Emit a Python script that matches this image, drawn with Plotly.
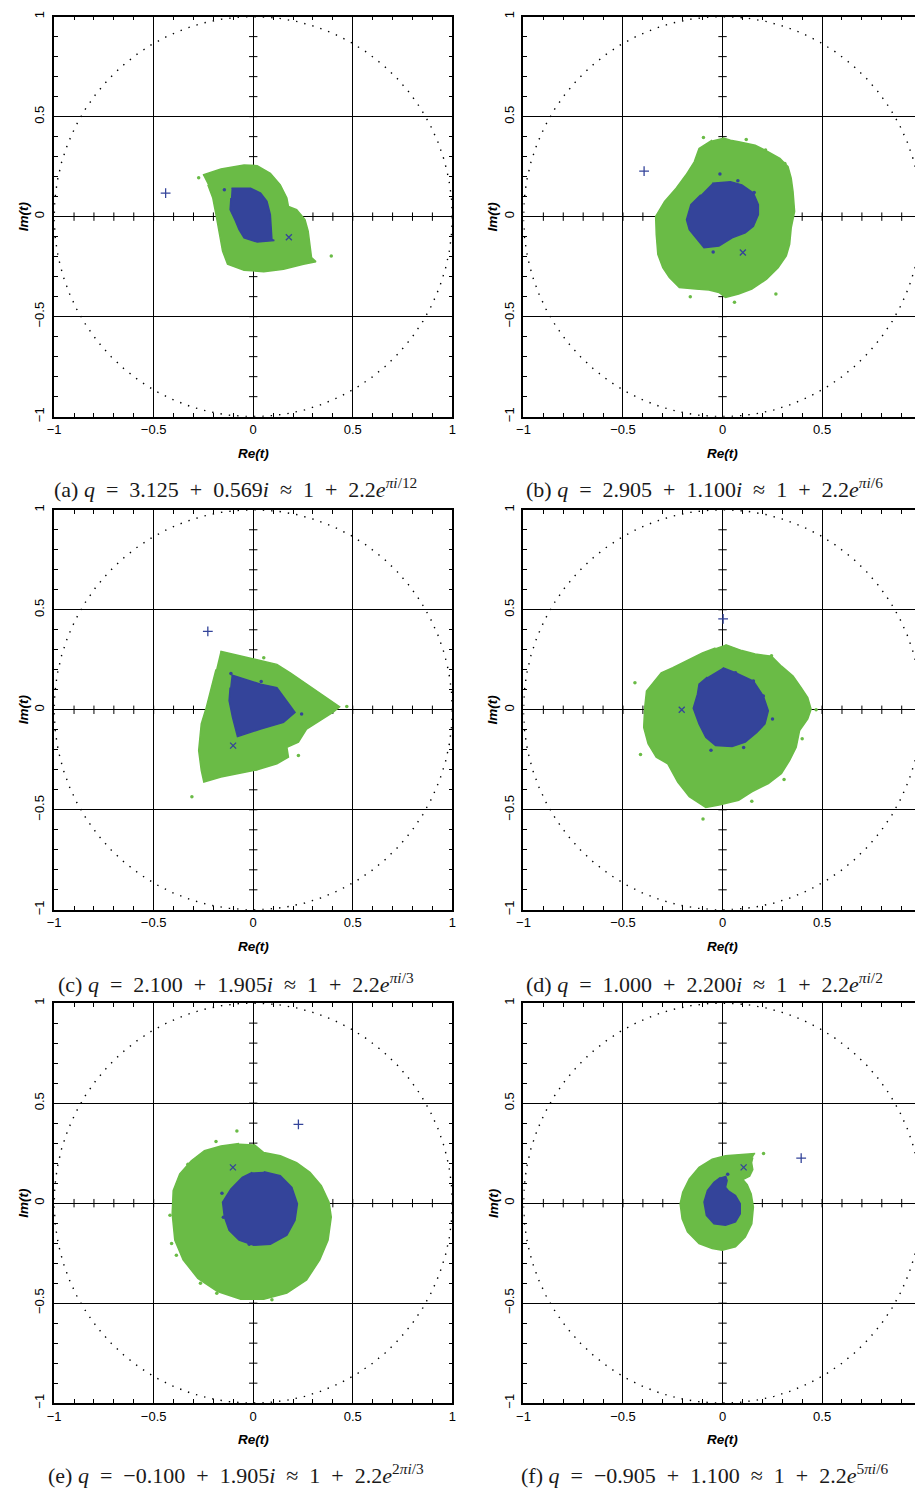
import numpy as np
import plotly.graph_objects as go

# ---------------- data ----------------
# Panel (a)
A_GREEN_RE = [-0.253, -0.162, -0.046, 0.02, 0.086, 0.136, 0.169, 0.177, 0.218, 0.26, 0.276, 0.285, 0.293, 0.315,
              0.252, 0.152, 0.053, -0.046, -0.129, -0.154, -0.170, -0.187, -0.203, -0.228]
A_GREEN_IM = [0.208, 0.238, 0.258, 0.255, 0.217, 0.159, 0.093, 0.051, 0.035, -0.015, -0.073, -0.139, -0.205, -0.225,
              -0.238, -0.263, -0.275, -0.268, -0.238, -0.172, -0.073, 0.01, 0.093, 0.159]
A_BLUE_RE = [-0.109, -0.013, 0.037, 0.069, 0.086, 0.089, 0.094, 0.106, 0.02, -0.046, -0.071, -0.092, -0.116, -0.112]
A_BLUE_IM = [0.142, 0.142, 0.118, 0.076, 0.01, -0.056, -0.114, -0.119, -0.127, -0.106, -0.065, -0.015, 0.035, 0.093]
A_GDOT_RE = [-0.274, 0.392]
A_GDOT_IM = [0.195, -0.197]
A_BDOT_RE = [-0.145]
A_BDOT_IM = [0.134]

# Panel (b)
B_GREEN_RE = [0.0, 0.04, 0.081, 0.164, 0.23, 0.288, 0.329, 0.345, 0.354, 0.362, 0.345, 0.337, 0.32, 0.279, 0.221,
              0.147, 0.081, 0.015, -0.018, -0.068, -0.134, -0.217, -0.267, -0.3, -0.325, -0.333, -0.336, -0.291,
              -0.233, -0.184, -0.142, -0.118, -0.052]
B_GREEN_IM = [0.394, 0.382, 0.374, 0.357, 0.324, 0.291, 0.25, 0.192, 0.126, 0.026, -0.056, -0.139, -0.197, -0.255,
              -0.313, -0.362, -0.387, -0.404, -0.379, -0.367, -0.362, -0.354, -0.304, -0.255, -0.189, -0.089, 0.001,
              0.076, 0.142, 0.208, 0.274, 0.341, 0.382]
B_BLUE_RE = [-0.052, 0.04, 0.097, 0.155, 0.18, 0.18, 0.155, 0.114, 0.048, -0.018, -0.093, -0.134, -0.167, -0.181,
             -0.159, -0.109]
B_BLUE_IM = [0.167, 0.175, 0.159, 0.118, 0.06, 0.01, -0.048, -0.081, -0.106, -0.147, -0.155, -0.106, -0.065, -0.015,
             0.06, 0.109]
B_GDOT_RE = [-0.096, 0.119, 0.216, 0.313, 0.268, 0.06, -0.162]
B_GDOT_IM = [0.396, 0.386, 0.333, 0.266, -0.387, -0.428, -0.4]
B_BDOT_RE = [-0.013, 0.077, 0.159, -0.047]
B_BDOT_IM = [0.213, 0.18, 0.121, -0.177]

# Panel (c)
C_GREEN_RE = [-0.165, -0.063, 0.053, 0.119, 0.186, 0.268, 0.334, 0.4, 0.434, 0.4, 0.334, 0.268, 0.227, 0.169, 0.177,
              0.119, 0.02, -0.079, -0.162, -0.248, -0.261, -0.274, -0.261, -0.236, -0.211, -0.187]
C_GREEN_IM = [0.293, 0.268, 0.243, 0.227, 0.185, 0.128, 0.086, 0.036, 0.015, -0.013, -0.055, -0.096, -0.162, -0.187,
              -0.237, -0.27, -0.3, -0.319, -0.336, -0.361, -0.303, -0.203, -0.071, 0.011, 0.111, 0.202]
C_BLUE_RE = [-0.109, -0.038, 0.037, 0.119, 0.161, 0.21, 0.152, 0.037, -0.079, -0.104, -0.121, -0.116]
C_BLUE_IM = [0.174, 0.152, 0.128, 0.111, 0.053, -0.013, -0.063, -0.096, -0.134, -0.038, 0.045, 0.111]
C_GDOT_RE = [0.053, 0.47, 0.227, -0.308]
C_GDOT_IM = [0.26, 0.016, -0.228, -0.435]
C_BDOT_RE = [-0.112, 0.04, 0.243]
C_BDOT_IM = [0.182, 0.141, -0.021]

# Panel (d)
D_GREEN_RE = [0.015, 0.097, 0.164, 0.246, 0.296, 0.354, 0.395, 0.428, 0.445, 0.428, 0.387, 0.37, 0.337, 0.296, 0.23,
              0.147, 0.081, -0.018, -0.084, -0.167, -0.225, -0.275, -0.333, -0.374, -0.396, -0.391, -0.382, -0.349,
              -0.308, -0.25, -0.184, -0.101, -0.035]
D_GREEN_IM = [0.326, 0.296, 0.279, 0.268, 0.218, 0.169, 0.111, 0.061, 0.003, -0.046, -0.104, -0.187, -0.253, -0.319,
              -0.369, -0.41, -0.452, -0.476, -0.488, -0.435, -0.361, -0.27, -0.237, -0.17, -0.088, 0.011, 0.094, 0.135,
              0.185, 0.21, 0.243, 0.284, 0.309]
D_BLUE_RE = [0.001, 0.065, 0.155, 0.205, 0.23, 0.213, 0.172, 0.114, 0.048, -0.035, -0.084, -0.118, -0.147, -0.126,
             -0.118, -0.076]
D_BLUE_IM = [0.21, 0.185, 0.144, 0.069, -0.005, -0.071, -0.113, -0.162, -0.184, -0.179, -0.137, -0.071, 0.008, 0.078,
             0.128, 0.164]
D_GDOT_RE = [-0.44, -0.412, 0.47, 0.4, 0.309, 0.147, -0.098, 0.246]
D_GDOT_IM = [0.135, -0.223, 0.0, -0.145, -0.349, -0.457, -0.546, 0.27]
D_BDOT_RE = [0.251, 0.106, -0.058, 0.155, 0.205, 0.065]
D_BDOT_IM = [-0.046, -0.189, -0.202, 0.144, 0.069, 0.185]

# Panel (e)
E_GREEN_RE = [0.003, 0.053, 0.136, 0.218, 0.285, 0.342, 0.381, 0.392, 0.376, 0.334, 0.268, 0.169, 0.053, -0.063,
              -0.179, -0.278, -0.352, -0.394, -0.407, -0.402, -0.369, -0.311, -0.245, -0.162, -0.071]
E_GREEN_IM = [0.294, 0.253, 0.237, 0.203, 0.154, 0.088, 0.005, -0.069, -0.185, -0.284, -0.384, -0.45, -0.48, -0.48,
              -0.442, -0.376, -0.284, -0.185, -0.053, 0.063, 0.146, 0.212, 0.262, 0.286, 0.298]
E_BLUE_RE = [0.053, 0.136, 0.194, 0.222, 0.21, 0.169, 0.086, 0.003, -0.071, -0.121, -0.145, -0.154, -0.112, -0.055,
             -0.005]
E_BLUE_IM = [0.157, 0.137, 0.079, -0.003, -0.086, -0.16, -0.205, -0.21, -0.185, -0.136, -0.069, 0.005, 0.071, 0.129,
             0.154]
E_GDOT_RE = [-0.082, -0.187, -0.328, -0.265, -0.364, -0.418, -0.41, -0.386, -0.265, -0.183, 0.094]
E_GDOT_IM = [0.361, 0.308, 0.195, 0.215, 0.132, -0.061, -0.202, -0.26, -0.4, -0.45, -0.483]
E_BDOT_RE = [-0.157, -0.15, -0.02]
E_BDOT_IM = [0.05, -0.07, -0.205]

# Panel (f)
F_GREEN_RE = [0.164, 0.097, 0.015, -0.052, -0.118, -0.167, -0.2, -0.213, -0.203, -0.176, -0.118, -0.052, -0.002,
              0.065, 0.114, 0.147, 0.155, 0.144, 0.124, 0.102, 0.136, 0.152, 0.146, 0.152]
F_GREEN_IM = [0.248, 0.242, 0.237, 0.22, 0.179, 0.121, 0.055, -0.003, -0.078, -0.144, -0.202, -0.227, -0.235,
              -0.218, -0.169, -0.103, -0.02, 0.046, 0.093, 0.118, 0.135, 0.168, 0.203, 0.228]
F_BLUE_RE = [0.015, 0.023, 0.015, 0.031, 0.065, 0.089, 0.089, 0.065, 0.015, -0.043, -0.081, -0.093, -0.076, -0.043,
             -0.01]
F_BLUE_IM = [0.137, 0.113, 0.079, 0.06, 0.038, -0.003, -0.053, -0.094, -0.111, -0.103, -0.061, 0.005, 0.063, 0.104,
             0.129]
F_GDOT_RE = [0.206]
F_GDOT_IM = [0.248]
F_BDOT_RE = [0.026]
F_BDOT_IM = [0.145]

# "+" and "x" markers, one per panel (a..f)
PLUS_RE = [-0.44, -0.394, -0.228, 0.003, 0.227, 0.395]
PLUS_IM = [0.118, 0.228, 0.392, 0.455, 0.394, 0.225]
CROSS_RE = [0.179, 0.102, -0.101, -0.205, -0.102, 0.106]
CROSS_IM = [-0.103, -0.179, -0.179, 0.0, 0.179, 0.179]

SP = "\u2002"  # wider math spacing around operators
CAPTIONS = [
    f"(a) <i>q</i>{SP}={SP}3.125{SP}+{SP}0.569<i>i</i>{SP}≈{SP}1{SP}+{SP}2.2<i>e</i><sup><i>πi</i>/12</sup>",
    f"(b) <i>q</i>{SP}={SP}2.905{SP}+{SP}1.100<i>i</i>{SP}≈{SP}1{SP}+{SP}2.2<i>e</i><sup><i>πi</i>/6</sup>",
    f"(c) <i>q</i>{SP}={SP}2.100{SP}+{SP}1.905<i>i</i>{SP}≈{SP}1{SP}+{SP}2.2<i>e</i><sup><i>πi</i>/3</sup>",
    f"(d) <i>q</i>{SP}={SP}1.000{SP}+{SP}2.200<i>i</i>{SP}≈{SP}1{SP}+{SP}2.2<i>e</i><sup><i>πi</i>/2</sup>",
    f"(e) <i>q</i>{SP}={SP}−0.100{SP}+{SP}1.905<i>i</i>{SP}≈{SP}1{SP}+{SP}2.2<i>e</i><sup>2<i>πi</i>/3</sup>",
    f"(f) <i>q</i>{SP}={SP}−0.905{SP}+{SP}1.100{SP}≈{SP}1{SP}+{SP}2.2<i>e</i><sup>5<i>πi</i>/6</sup>",
]

PANELS = [
    (A_GREEN_RE, A_GREEN_IM, A_BLUE_RE, A_BLUE_IM, A_GDOT_RE, A_GDOT_IM, A_BDOT_RE, A_BDOT_IM),
    (B_GREEN_RE, B_GREEN_IM, B_BLUE_RE, B_BLUE_IM, B_GDOT_RE, B_GDOT_IM, B_BDOT_RE, B_BDOT_IM),
    (C_GREEN_RE, C_GREEN_IM, C_BLUE_RE, C_BLUE_IM, C_GDOT_RE, C_GDOT_IM, C_BDOT_RE, C_BDOT_IM),
    (D_GREEN_RE, D_GREEN_IM, D_BLUE_RE, D_BLUE_IM, D_GDOT_RE, D_GDOT_IM, D_BDOT_RE, D_BDOT_IM),
    (E_GREEN_RE, E_GREEN_IM, E_BLUE_RE, E_BLUE_IM, E_GDOT_RE, E_GDOT_IM, E_BDOT_RE, E_BDOT_IM),
    (F_GREEN_RE, F_GREEN_IM, F_BLUE_RE, F_BLUE_IM, F_GDOT_RE, F_GDOT_IM, F_BDOT_RE, F_BDOT_IM),
]

# ---------------- layout geometry ----------------
W, H = 919, 1498
GREEN = "#6abb46"
BLUE = "#34449a"
COL_LEFT = [47.7, 522.7]          # left edge of plot area (px)
PX_PER_UNIT = 201.5
ROW_TOP = [10.7, 507.5, 1004.5]   # top edge of plot area (px)
CAP_X = [231.5, 705.5]
CAP_Y = [486, 984, 1479]

fig = go.Figure()

theta = np.linspace(0, 2 * np.pi, 721)
tick_pos = np.round(np.arange(-0.9, 0.95, 0.1), 2)
tick_pos = tick_pos[np.abs(tick_pos) > 1e-9]

for i, (gre, gim, bre, bim, gdre, gdim, bdre, bdim) in enumerate(PANELS):
    col, row = i % 2, i // 2
    n = "" if i == 0 else str(i + 1)
    xa, ya = "x" + n, "y" + n
    xl = COL_LEFT[col]
    xr = min(xl + 2 * PX_PER_UNIT, W)
    x_hi = -1 + (xr - xl) / PX_PER_UNIT
    yt = ROW_TOP[row]
    yb = yt + 2 * PX_PER_UNIT

    common = dict(
        showgrid=True, gridcolor="black", gridwidth=1,
        zeroline=True, zerolinecolor="black", zerolinewidth=1,
        showline=True, linecolor="black", linewidth=1.5,
        ticks="inside", ticklen=4, tickwidth=1, tickcolor="black",
        tick0=0, dtick=0.5,
        minor=dict(dtick=0.1, ticks="inside", ticklen=4, tickwidth=1, tickcolor="black", showgrid=False),
        tickfont=dict(family="Liberation Sans", size=13, color="black"),
        fixedrange=True,
    )
    fig.layout["xaxis" + n] = dict(common, domain=[xl / W, xr / W], range=[-1, x_hi],
                                   anchor=ya, mirror="ticks")
    fig.layout["yaxis" + n] = dict(common, domain=[1 - yb / H, 1 - yt / H], range=[-1, 1],
                                   anchor=xa, mirror="ticks" if col == 0 else False,
                                   tickangle=-90, ticklabelstandoff=3)

    # dotted unit circle
    fig.add_trace(go.Scatter(x=np.cos(theta), y=np.sin(theta), mode="lines",
                             line=dict(color="black", width=1.4, dash="1.4px,7px"),
                             xaxis=xa, yaxis=ya, hoverinfo="skip", showlegend=False))
    # ticks crossing the central axes
    fig.add_trace(go.Scatter(x=tick_pos, y=np.zeros_like(tick_pos), mode="markers",
                             marker=dict(symbol="line-ns", size=6, line=dict(width=1, color="black")),
                             xaxis=xa, yaxis=ya, hoverinfo="skip", showlegend=False))
    fig.add_trace(go.Scatter(x=np.zeros_like(tick_pos), y=tick_pos, mode="markers",
                             marker=dict(symbol="line-ew", size=6, line=dict(width=1, color="black")),
                             xaxis=xa, yaxis=ya, hoverinfo="skip", showlegend=False))
    # regions
    fig.add_trace(go.Scatter(x=gre, y=gim, mode="lines", fill="toself", fillcolor=GREEN,
                             line=dict(color=GREEN, width=1.5), xaxis=xa, yaxis=ya, showlegend=False))
    fig.add_trace(go.Scatter(x=bre, y=bim, mode="lines", fill="toself", fillcolor=BLUE,
                             line=dict(color=BLUE, width=1.5), xaxis=xa, yaxis=ya, showlegend=False))
    # isolated points
    fig.add_trace(go.Scatter(x=gdre, y=gdim, mode="markers",
                             marker=dict(color=GREEN, size=3.5), xaxis=xa, yaxis=ya, showlegend=False))
    fig.add_trace(go.Scatter(x=bdre, y=bdim, mode="markers",
                             marker=dict(color=BLUE, size=3.5), xaxis=xa, yaxis=ya, showlegend=False))
    fig.add_trace(go.Scatter(x=[PLUS_RE[i]], y=[PLUS_IM[i]], mode="markers",
                             marker=dict(symbol="cross-thin", size=7, line=dict(width=1.3, color=BLUE)),
                             xaxis=xa, yaxis=ya, showlegend=False))
    fig.add_trace(go.Scatter(x=[CROSS_RE[i]], y=[CROSS_IM[i]], mode="markers",
                             marker=dict(symbol="x-thin", size=6, line=dict(width=1.3, color=BLUE)),
                             xaxis=xa, yaxis=ya, showlegend=False))

    # axis titles
    fig.add_annotation(text="<b><i>Re(t)</i></b>", x=(xl + PX_PER_UNIT) / W, y=1 - (yb + 37) / H,
                       xref="paper", yref="paper", showarrow=False, xanchor="center", yanchor="middle",
                       font=dict(family="Liberation Sans", size=13.5, color="black"))
    fig.add_annotation(text="<b><i>Im(t)</i></b>", x=(xl - 31) / W, y=1 - (yt + PX_PER_UNIT) / H,
                       xref="paper", yref="paper", showarrow=False, textangle=-90,
                       xanchor="center", yanchor="middle",
                       font=dict(family="Liberation Sans", size=13.5, color="black"))
    # caption
    fig.add_annotation(text=CAPTIONS[i], x=CAP_X[col] / W, y=1 - CAP_Y[row] / H,
                       xref="paper", yref="paper", showarrow=False, xanchor="center", yanchor="middle",
                       font=dict(family="Liberation Serif", size=22, color="#1a1a1a"))

fig.update_layout(width=W, height=H, margin=dict(l=0, r=0, t=0, b=0),
                  paper_bgcolor="white", plot_bgcolor="white", showlegend=False)

fig.write_html("out.html", config={"displayModeBar": False},
               post_script="document.body.style.margin='0px';")
